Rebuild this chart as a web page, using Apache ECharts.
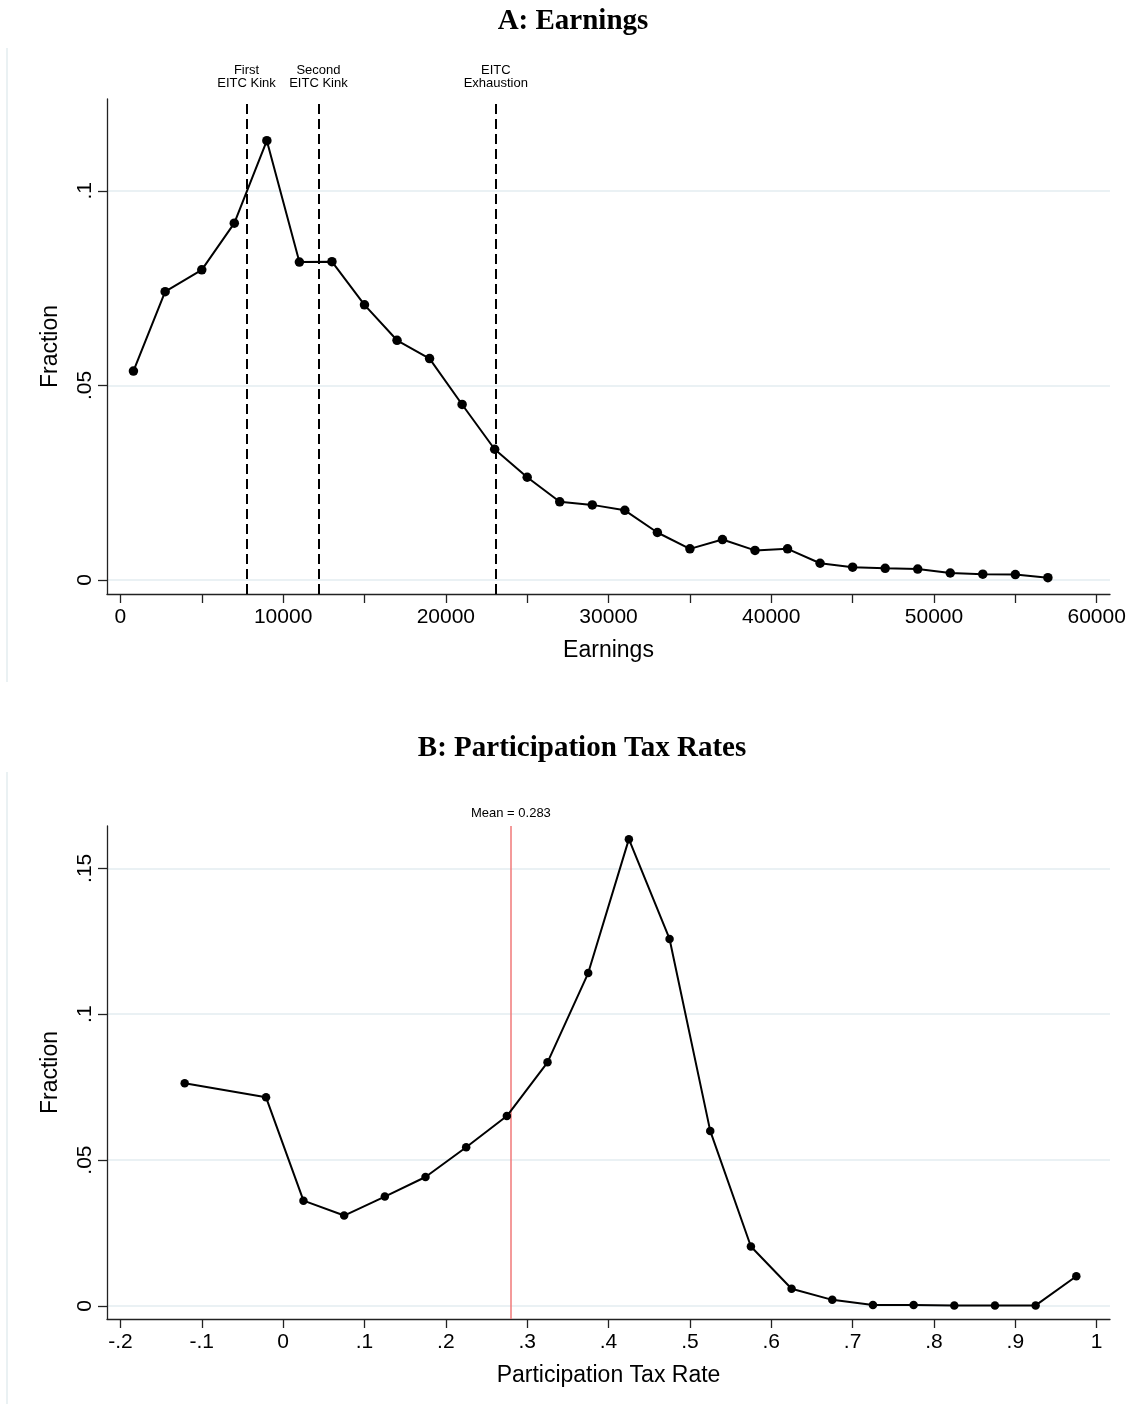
<!DOCTYPE html>
<html>
<head>
<meta charset="utf-8">
<script src="https://cdn.jsdelivr.net/npm/echarts@6/dist/echarts.min.js"></script>
<style>
html,body{margin:0;padding:0;background:#fff;}
#chart{width:1133px;height:1404px;}
</style>
</head>
<body>
<div id="chart"></div>
<script>
// ---------- Data ----------
// Panel A: Earnings distribution
const earnX = [800, 2750, 5000, 7000, 9000, 11000, 13000, 15000, 17000, 19000, 21000, 23000, 25000, 27000, 29000, 31000, 33000, 35000, 37000, 39000, 41000, 43000, 45000, 47000, 49000, 51000, 53000, 55000, 57000];
const earnY = [0.0537, 0.0741, 0.0797, 0.0917, 0.1129, 0.0817, 0.0818, 0.0707, 0.0616, 0.0569, 0.0451, 0.0336, 0.0264, 0.0201, 0.0193, 0.0179, 0.0122, 0.0080, 0.0104, 0.0076, 0.0080, 0.0043, 0.0033, 0.0030, 0.0028, 0.0018, 0.0015, 0.0014, 0.0006];
const kinkValues = [7750, 12170, 23070];
const kinkLabels = ["First\nEITC Kink", "Second\nEITC Kink", "EITC\nExhaustion"];
const earnTicks = [0, 5000, 10000, 15000, 20000, 25000, 30000, 35000, 40000, 45000, 50000, 55000, 60000];
const earnTickLabels = [0, 10000, 20000, 30000, 40000, 50000, 60000];
const fracTicksA = [0, 0.05, 0.1];

// Panel B: Participation tax rates
const ptrX = [-0.121, -0.021, 0.025, 0.075, 0.125, 0.175, 0.225, 0.275, 0.325, 0.375, 0.425, 0.475, 0.525, 0.575, 0.625, 0.675, 0.725, 0.775, 0.825, 0.875, 0.925, 0.975];
const ptrY = [0.0763, 0.0715, 0.0361, 0.0310, 0.0375, 0.0442, 0.0544, 0.0651, 0.0835, 0.1141, 0.1600, 0.1258, 0.0600, 0.0204, 0.0059, 0.0021, 0.0003, 0.0003, 0.0002, 0.0002, 0.0002, 0.0102];
const ptrMean = 0.283;
const ptrTicks = [-0.2, -0.1, 0, 0.1, 0.2, 0.3, 0.4, 0.5, 0.6, 0.7, 0.8, 0.9, 1];
const fracTicksB = [0, 0.05, 0.1, 0.15];

// ---------- Helpers ----------
const SANS = '"Liberation Sans", Arial, Helvetica, sans-serif';
const SERIF = '"Liberation Serif", "DejaVu Serif", serif';
function stataFmt(v) {
  if (Math.abs(v) < 1e-9) return '0';
  let s = String(+Number(v).toFixed(4));
  return s.replace(/^(-?)0\./, '$1.');
}
const gridLineStyle = { color: '#e3edf0', width: 1.5 };
const axisLineStyle = { color: '#222', width: 1.3 };

function xAxisCfg(gridIndex, min, max, ticks, labels, name) {
  return {
    type: 'value', gridIndex, min, max, name,
    nameLocation: 'middle', nameGap: 45,
    nameTextStyle: { fontFamily: SANS, fontSize: 23, color: '#000' },
    axisLine: { show: true, onZero: false, lineStyle: axisLineStyle },
    axisTick: { show: true, inside: false, length: 9, customValues: ticks, lineStyle: { color: '#222', width: 1.3 } },
    axisLabel: { show: true, margin: 13, customValues: labels, formatter: stataFmt, fontFamily: SANS, fontSize: 21, color: '#000' },
    splitLine: { show: false }
  };
}
function yAxisCfg(gridIndex, min, max, ticks) {
  return {
    type: 'value', gridIndex, min, max, name: 'Fraction',
    nameLocation: 'middle', nameGap: 45, nameRotate: 90,
    nameTextStyle: { fontFamily: SANS, fontSize: 23, color: '#000' },
    axisLine: { show: true, onZero: false, lineStyle: axisLineStyle },
    axisTick: { show: true, inside: false, length: 9, customValues: ticks, lineStyle: { color: '#222', width: 1.3 } },
    axisLabel: { show: true, margin: 11, rotate: 90, customValues: ticks, formatter: stataFmt, fontFamily: SANS, fontSize: 21, color: '#000' },
    splitLine: { show: true, lineStyle: gridLineStyle }
  };
}

const option = {
  backgroundColor: '#fff',
  animation: false,
  grid: [
    { left: 107, right: 23, top: 99, height: 495, outerBoundsMode: 'none', containLabel: false },
    { left: 107, right: 23, top: 826, height: 493, outerBoundsMode: 'none', containLabel: false }
  ],
  xAxis: [
    xAxisCfg(0, -824, 60817, earnTicks, earnTickLabels, 'Earnings'),
    xAxisCfg(1, -0.2165, 1.0164, ptrTicks, ptrTicks, 'Participation Tax Rate')
  ],
  yAxis: [
    yAxisCfg(0, -0.0036, 0.1236, fracTicksA),
    yAxisCfg(1, -0.00446, 0.1645, fracTicksB)
  ],
  graphic: [
    { type: 'text', x: 573, y: 22, style: { text: 'A: Earnings', font: 'bold 29px ' + SERIF, fill: '#000', textAlign: 'center', textVerticalAlign: 'middle' } },
    { type: 'text', x: 582, y: 749, style: { text: 'B: Participation Tax Rates', font: 'bold 29px ' + SERIF, fill: '#000', textAlign: 'center', textVerticalAlign: 'middle' } },
    { type: 'line', shape: { x1: 7, y1: 48, x2: 7, y2: 682 }, style: { stroke: '#e3ecef', lineWidth: 1.5 } },
    { type: 'line', shape: { x1: 7, y1: 772, x2: 7, y2: 1404 }, style: { stroke: '#e3ecef', lineWidth: 1.5 } }
  ],
  series: [
    {
      type: 'line', xAxisIndex: 0, yAxisIndex: 0,
      data: earnX.map((x, i) => [x, earnY[i]]),
      symbol: 'circle', symbolSize: 9.5, showAllSymbol: true,
      lineStyle: { color: '#000', width: 2 },
      itemStyle: { color: '#000' },
      z: 5,
      markLine: {
        silent: true, symbol: 'none', animation: false,
        lineStyle: { color: '#000', width: 2, type: [10, 5] },
        label: { show: true, position: 'end', distance: 9, fontFamily: SANS, fontSize: 13, lineHeight: 13, color: '#000', align: 'center',
                 formatter: p => kinkLabels[p.dataIndex] },
        data: kinkValues.map(v => ({ xAxis: v }))
      }
    },
    {
      type: 'line', xAxisIndex: 1, yAxisIndex: 1,
      data: ptrX.map((x, i) => [x, ptrY[i]]),
      symbol: 'circle', symbolSize: 8.5, showAllSymbol: true,
      lineStyle: { color: '#000', width: 2 },
      itemStyle: { color: '#000' },
      z: 5,
      markLine: {
        silent: true, symbol: 'none', animation: false,
        lineStyle: { color: '#f07878', width: 1.5, type: 'solid' },
        label: { show: true, position: 'end', distance: 6, fontFamily: SANS, fontSize: 13, color: '#000',
                 formatter: () => 'Mean = ' + ptrMean.toFixed(3) },
        data: [{ xAxis: ptrMean }]
      }
    }
  ]
};

const chart = echarts.init(document.getElementById('chart'), null, { renderer: 'canvas', width: 1133, height: 1404 });
chart.setOption(option);
</script>
</body>
</html>
